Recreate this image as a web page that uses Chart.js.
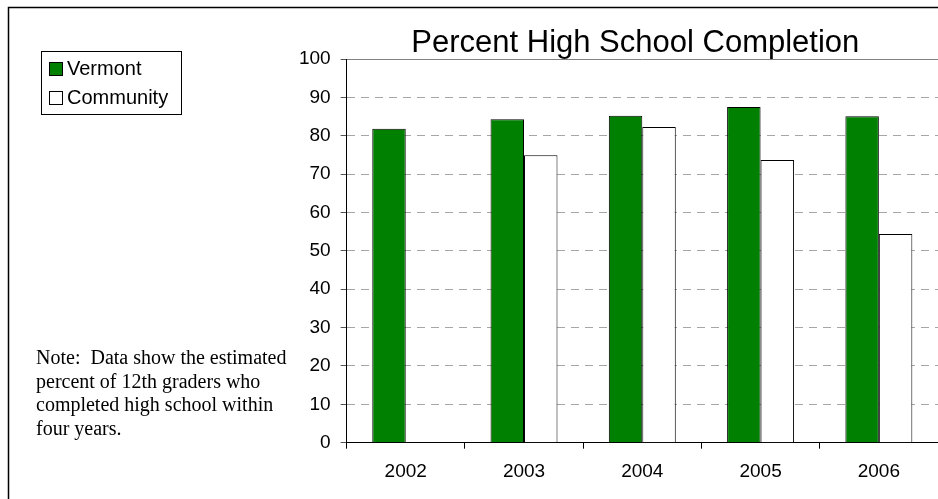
<!DOCTYPE html>
<html>
<head>
<meta charset="utf-8">
<script src="https://cdn.jsdelivr.net/npm/chart.js@4.4.1/dist/chart.umd.min.js"></script>
<style>
  html, body { margin: 0; padding: 0; background: #ffffff; }
  #wrap { width: 938px; height: 499px; position: relative; }
</style>
</head>
<body>
<div id="wrap"><canvas id="c" width="938" height="499"></canvas></div>
<script>
const years = ['2002', '2003', '2004', '2005', '2006'];
const vermont = [81.8, 84.3, 85.2, 87.5, 85.1];
const community = [null, 74.9, 82.3, 73.7, 54.4];
const seriesNames = ['Vermont', 'Community'];
const titleText = 'Percent High School Completion';
const noteLines = ['Note:  Data show the estimated', 'percent of 12th graders who', 'completed high school within', 'four years.'];

const SANS = '"Liberation Sans", Arial, sans-serif';
const SERIF = '"Liberation Serif", "Times New Roman", serif';

const decor = {
  id: 'decor',
  afterDraw(chart) {
    const ctx = chart.ctx;
    const ca = chart.chartArea;
    ctx.save();
    // page frame
    ctx.strokeStyle = '#000';
    ctx.lineWidth = 1.5;
    ctx.beginPath();
    ctx.moveTo(8.5, 520);
    ctx.lineTo(8.5, 7.5);
    ctx.lineTo(960, 7.5);
    ctx.stroke();
    // title
    ctx.fillStyle = '#000';
    ctx.font = '31px ' + SANS;
    ctx.textAlign = 'center';
    ctx.textBaseline = 'alphabetic';
    ctx.fillText(titleText, (ca.left + ca.right) / 2 - 7, 52);
    // legend
    ctx.lineWidth = 1;
    ctx.strokeStyle = '#000';
    ctx.strokeRect(41.5, 51.5, 140, 63);
    ctx.font = '20px ' + SANS;
    ctx.textAlign = 'left';
    chart.data.datasets.forEach((ds, i) => {
      const y = 62 + i * 29;
      ctx.fillStyle = ds.backgroundColor;
      ctx.fillRect(49.5, y + 0.5, 13, 13);
      ctx.strokeRect(49.5, y + 0.5, 13, 13);
      ctx.fillStyle = '#000';
      ctx.fillText(ds.label, 67, y + 13);
    });
    // note
    ctx.font = '20px ' + SERIF;
    noteLines.forEach((t, i) => {
      ctx.fillText(t, 36, 364 + i * 23.7);
    });
    ctx.restore();
  }
};

new Chart(document.getElementById('c'), {
  type: 'bar',
  data: {
    labels: years,
    datasets: [
      { label: seriesNames[0], data: vermont, backgroundColor: '#008000', borderColor: '#000', borderWidth: 1 },
      { label: seriesNames[1], data: community, backgroundColor: '#ffffff', borderColor: '#000', borderWidth: 1 }
    ]
  },
  options: {
    responsive: false,
    animation: false,
    layout: { padding: { left: 0, right: 0, top: 59, bottom: 0 } },
    datasets: { bar: { categoryPercentage: 0.566, barPercentage: 1.0 } },
    plugins: {
      legend: { display: false },
      title: { display: false },
      tooltip: { enabled: false }
    },
    scales: {
      x: {
        offset: true,
        grid: { display: true, drawOnChartArea: false, drawTicks: true, tickLength: 6, tickColor: '#000', offset: true },
        border: { display: true, color: '#000', width: 1 },
        ticks: { color: '#000', font: { family: SANS, size: 19 }, padding: 12, maxRotation: 0 },
        afterFit(scale) { scale.height = 56.3; }
      },
      y: {
        min: 0, max: 100,
        ticks: { stepSize: 10, color: '#000', font: { family: SANS, size: 19 }, padding: 10 },
        grid: {
          color: (c) => (c.tick && c.tick.value === 100) ? '#808080' : '#a6a6a6',
          lineWidth: 1,
          tickLength: 6,
          tickColor: '#555'
        },
        border: { display: true, color: '#000', width: 1, dash: (c) => (c.tick && c.tick.value === 100) ? [] : [8, 6] },
        afterFit(scale) { scale.width = 346.6; }
      }
    }
  },
  plugins: [decor]
});
</script>
</body>
</html>
